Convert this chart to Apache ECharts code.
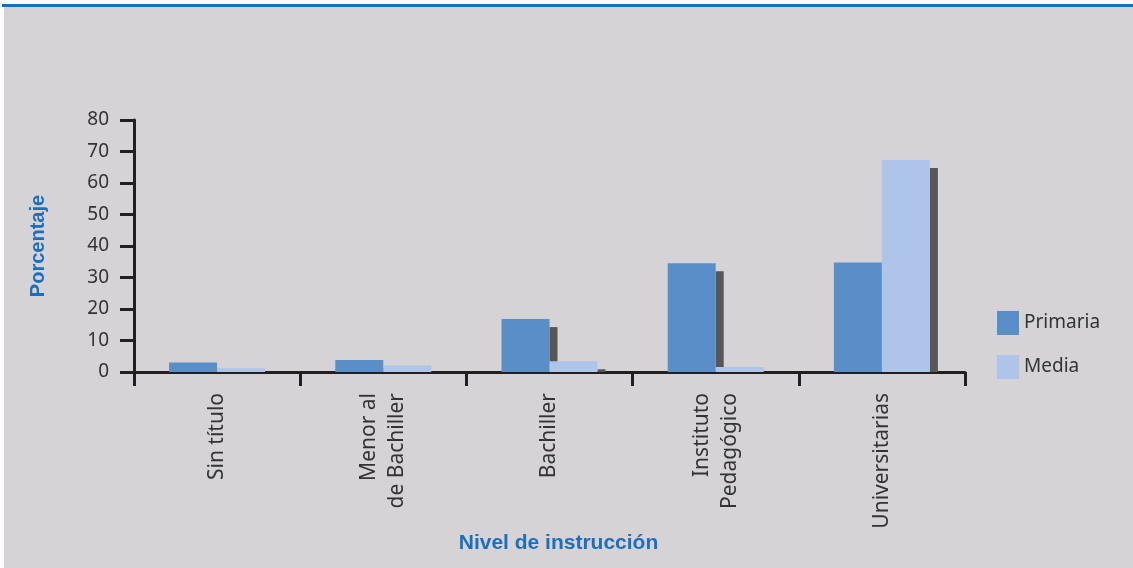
<!DOCTYPE html>
<html>
<head>
<meta charset="utf-8">
<title>Nivel de instrucción</title>
<script src="https://cdn.jsdelivr.net/npm/echarts@6/dist/echarts.min.js"></script>
<style>
  html, body { margin: 0; padding: 0; background: #ffffff; }
  #chart { position: absolute; left: 0; top: 0; width: 1133px; height: 568px; }
</style>
</head>
<body>
<div id="chart"></div>
<script>
// Education level categories (x axis)
const categories = ['Sin título', 'Menor al\nde Bachiller', 'Bachiller', 'Instituto\nPedagógico', 'Universitarias'];
// Percentage by level, primary-school teachers
const primaria = [3.0, 3.8, 16.8, 34.5, 34.8];
// Percentage by level, secondary-school teachers
const media = [1.2, 2.1, 3.4, 1.6, 67.3];
// Y axis tick range
const yTicks = { min: 0, max: 80, step: 10 };

const BAR_W = 48;      // width of each bar
const SHADOW_DX = 8;   // drop-shadow offset to the right
const SHADOW_DY = 8;   // drop-shadow offset downwards

const textFont = '"Noto Sans", "Open Sans", sans-serif';
const titleFont = '"Liberation Sans", Arial, sans-serif';

// Drop shadow behind a bar: a dark strip along the bar's right edge,
// starting a little below its top and running down to the baseline.
function shadowRenderer(side) {
  return function (params, api) {
    const idx = api.value(0);
    const top = api.coord([idx, api.value(1)]);
    const base = api.coord([idx, 0]);
    const rightEdge = top[0] + (side === 0 ? 0 : BAR_W);
    const y = top[1] + SHADOW_DY;
    const h = base[1] - y;
    if (h <= 0) return null;
    return {
      type: 'rect',
      shape: { x: rightEdge, y: y, width: SHADOW_DX, height: h },
      style: { fill: '#575757' }
    };
  };
}

const chart = echarts.init(document.getElementById('chart'));
chart.setOption({
  backgroundColor: '#d5d3d6',
  animation: false,
  graphic: [
    { type: 'rect', shape: { x: 0, y: 0, width: 1133, height: 4 }, style: { fill: '#ffffff' }, silent: true },
    { type: 'rect', shape: { x: 0, y: 0, width: 4, height: 568 }, style: { fill: '#ffffff' }, silent: true },
    { type: 'rect', shape: { x: 2, y: 4, width: 1131, height: 3 }, style: { fill: '#1670b8' }, silent: true }
  ],
  grid: { left: 134, right: 168, top: 120, bottom: 196 },
  legend: {
    data: ['Primaria', 'Media'],
    orient: 'vertical',
    left: 992,
    top: 306,
    itemWidth: 22,
    itemHeight: 24,
    itemGap: 20,
    icon: 'rect',
    textStyle: { fontSize: 19, color: '#333333', fontFamily: textFont }
  },
  xAxis: {
    type: 'category',
    data: categories,
    name: 'Nivel de instrucción',
    nameLocation: 'middle',
    nameGap: 160,
    nameTextStyle: { fontSize: 21, fontWeight: 'bold', color: '#1a6fbf', fontFamily: titleFont, padding: [0, 0, 0, 18] },
    axisLine: { lineStyle: { color: '#231f20', width: 3 } },
    axisTick: { show: true, interval: 0, length: 14, lineStyle: { color: '#231f20', width: 3 } },
    axisLabel: {
      rotate: 90,
      interval: 0,
      margin: 21,
      fontSize: 21,
      lineHeight: 28,
      color: '#333333',
      fontFamily: textFont
    }
  },
  yAxis: {
    type: 'value',
    min: yTicks.min,
    max: yTicks.max,
    interval: yTicks.step,
    name: 'Porcentaje',
    nameLocation: 'middle',
    nameGap: 86,
    nameTextStyle: { fontSize: 20, fontWeight: 'bold', color: '#1a6fbf', fontFamily: titleFont, padding: [0, 0, 0, 0] },
    axisLine: { show: true, lineStyle: { color: '#231f20', width: 3 } },
    axisTick: { show: true, length: 14, lineStyle: { color: '#231f20', width: 3 } },
    splitLine: { show: false },
    axisLabel: { margin: 25, fontSize: 19, color: '#333333', fontFamily: textFont }
  },
  series: [
    {
      type: 'custom',
      name: 'sombra-primaria',
      z: 1,
      renderItem: shadowRenderer(0),
      data: primaria.map((v, i) => [i, v])
    },
    {
      type: 'custom',
      name: 'sombra-media',
      z: 1,
      renderItem: shadowRenderer(1),
      data: media.map((v, i) => [i, v])
    },
    {
      type: 'bar',
      name: 'Primaria',
      z: 2,
      data: primaria,
      barWidth: BAR_W,
      barGap: '0%',
      itemStyle: { color: '#5a8ec7' }
    },
    {
      type: 'bar',
      name: 'Media',
      z: 3,
      data: media,
      barWidth: BAR_W,
      barGap: '0%',
      itemStyle: { color: '#aec4e9' }
    }
  ]
});
</script>
</body>
</html>
